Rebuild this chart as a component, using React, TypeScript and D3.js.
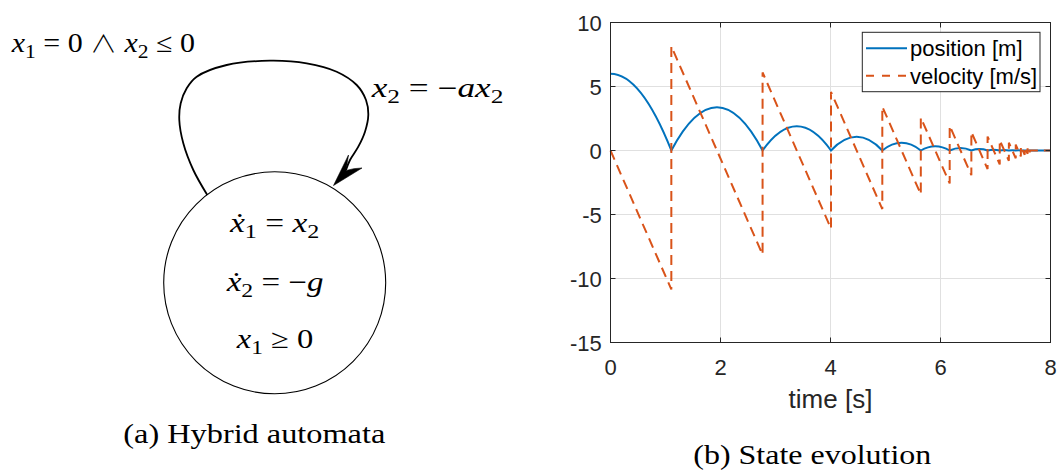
import React from "react";
import * as d3 from "d3";

// Bouncing ball: state evolution
const startHeight = 6;
const impactTimes = [1.106, 2.765, 4.009, 4.942, 5.642, 6.167, 6.561, 6.856, 7.077, 7.243, 7.368, 7.461, 7.531, 7.584, 7.623];
const impactSpeeds = [10.85, 8.14, 6.1, 4.58, 3.43, 2.57, 1.93, 1.45, 1.09, 0.81, 0.61, 0.46, 0.34, 0.26, 0.19];
const reboundSpeeds = [8.14, 6.1, 4.58, 3.43, 2.57, 1.93, 1.45, 1.09, 0.81, 0.61, 0.46, 0.34, 0.26, 0.19, 0];
const peakHeights = [3.38, 1.9, 1.07, 0.6, 0.34, 0.19, 0.11, 0.06, 0.034, 0.019, 0.011, 0.006, 0.003, 0.002];
const tEnd = 8;

const xTicks = [0, 2, 4, 6, 8];
const yTicks = [-15, -10, -5, 0, 5, 10];
const seriesNames = ["position [m]", "velocity [m/s]"];

// Automaton self-loop, drawn as a smooth curve through these points
const loopPoints: [number, number][] = [
  [207.3, 195], [193.3, 170], [183.3, 143.3], [179.3, 120], [180.7, 103.3],
  [186.7, 88.3], [196.7, 76.7], [226.7, 65], [270, 60.7], [306.7, 63.3],
  [336.7, 71.7], [356.7, 85], [366, 100], [368.3, 115], [365, 131.7],
  [358.3, 146.7], [350, 160], [346, 170],
];

const BLUE = "#0072BD";
const ORANGE = "#D95319";
const AX = "#262626";
const SANS = "'Liberation Sans', Arial, Helvetica, sans-serif";
const SERIF = "'Liberation Serif', 'Times New Roman', serif";

type Part = { t: string; i?: boolean; sub?: boolean; sym?: boolean };

function MathText({ x, y, parts, size, width }: { x: number; y: number; parts: Part[]; size: number; width: number }) {
  const nodes: React.ReactNode[] = [];
  let lowered = false;
  parts.forEach((p, k) => {
    let dy = 0;
    if (p.sub && !lowered) { dy = size * 0.22; lowered = true; }
    else if (!p.sub && lowered) { dy = -size * 0.22; lowered = false; }
    nodes.push(
      <tspan
        key={k}
        dy={dy || undefined}
        fontStyle={p.i ? "italic" : "normal"}
        fontFamily={p.sym ? "'Noto Sans CJK JP', 'DejaVu Sans', sans-serif" : undefined}
        fontWeight={p.sym ? 300 : undefined}
        fontSize={p.sub ? size * 0.72 : p.sym ? size * 0.9 : size}
      >
        {p.t}
      </tspan>
    );
  });
  return (
    <text x={x} y={y} fontFamily={SERIF} fontSize={size} fill="#000" style={{ whiteSpace: "pre" }}
      textLength={width} lengthAdjust="spacingAndGlyphs">
      {nodes}
    </text>
  );
}

export default function App() {
  const x = d3.scaleLinear().domain([0, 8]).range([610.5, 1050.5]);
  const y = d3.scaleLinear().domain([-15, 10]).range([342.5, 22.5]);

  // position: parabolic arcs between impacts (quadratic Béziers)
  const pos = d3.path();
  pos.moveTo(x(0), y(startHeight));
  pos.quadraticCurveTo(x(impactTimes[0] / 2), y(startHeight), x(impactTimes[0]), y(0));
  peakHeights.forEach((h, i) => {
    const a = impactTimes[i];
    const b = impactTimes[i + 1];
    pos.quadraticCurveTo(x((a + b) / 2), y(2 * h), x(b), y(0));
  });
  pos.lineTo(x(tEnd), y(0));

  // velocity: linear fall between impacts, jumps at each impact
  const velPts: [number, number][] = [[0, 0]];
  impactTimes.forEach((t, i) => {
    velPts.push([t, -impactSpeeds[i]]);
    velPts.push([t, reboundSpeeds[i]]);
  });
  velPts.push([tEnd, 0]);
  const velLine = d3.line<[number, number]>().x((d) => x(d[0])).y((d) => y(d[1]));

  const loop = d3.line().curve(d3.curveCatmullRom.alpha(0.5))(loopPoints) || "";

  const x0 = x(0), x1 = x(8), yt = y(10), yb = y(-15);
  const tick = 5;

  return (
    <svg width={1058} height={472} style={{ position: "absolute", left: 0, top: 0, background: "#fff" }}>
      {/* (a) hybrid automaton */}
      <circle cx={274.7} cy={282.8} r={111} fill="none" stroke="#000" strokeWidth={1.1} />
      <path d={loop} fill="none" stroke="#000" strokeWidth={1.8} />
      <path d="M333.5,185.5 L348.5,155 Q347,164 346,170.5 Q354,168 362,168 Z" fill="#000" stroke="#000" strokeWidth={0.6} strokeLinejoin="miter" />

      <MathText x={11.7} y={52} size={27} width={183.3} parts={[
        { t: "x", i: true }, { t: "1", sub: true }, { t: " = 0 " }, { t: "∧", sym: true }, { t: " " }, { t: "x", i: true }, { t: "2", sub: true }, { t: " ≤ 0" },
      ]} />
      <MathText x={371.7} y={97} size={27} width={131.7} parts={[
        { t: "x", i: true }, { t: "2", sub: true }, { t: " = −" }, { t: "ax", i: true }, { t: "2", sub: true },
      ]} />
      <MathText x={230} y={232} size={27} width={89.3} parts={[
        { t: "x\u0307", i: true }, { t: "1", sub: true }, { t: " = " }, { t: "x", i: true }, { t: "2", sub: true },
      ]} />
      <MathText x={226.7} y={291} size={27} width={96.7} parts={[
        { t: "x\u0307", i: true }, { t: "2", sub: true }, { t: " = −" }, { t: "g", i: true },
      ]} />
      <MathText x={236.7} y={348.3} size={27} width={76.7} parts={[
        { t: "x", i: true }, { t: "1", sub: true }, { t: " ≥ 0" },
      ]} />
      <text x={123.3} y={443.3} fontFamily={SERIF} fontSize={28} fill="#000" textLength={262} lengthAdjust="spacingAndGlyphs">(a) Hybrid automata</text>

      {/* (b) state evolution */}
      <g>
        {xTicks.map((t) => (
          <line key={"gx" + t} x1={x(t)} x2={x(t)} y1={yt} y2={yb} stroke="#e0e0e0" strokeWidth={1} />
        ))}
        {yTicks.map((t) => (
          <line key={"gy" + t} x1={x0} x2={x1} y1={y(t)} y2={y(t)} stroke="#e0e0e0" strokeWidth={1} />
        ))}
        <path d={pos.toString()} fill="none" stroke={BLUE} strokeWidth={2} />
        <path d={velLine(velPts) || ""} fill="none" stroke={ORANGE} strokeWidth={2} strokeDasharray="10,6" />
        <rect x={x0} y={yt} width={x1 - x0} height={yb - yt} fill="none" stroke={AX} strokeWidth={1} />
        {xTicks.map((t) => (
          <g key={"tx" + t}>
            <line x1={x(t)} x2={x(t)} y1={yb} y2={yb - tick} stroke={AX} />
            <line x1={x(t)} x2={x(t)} y1={yt} y2={yt + tick} stroke={AX} />
            <text x={x(t)} y={375} textAnchor="middle" fontFamily={SANS} fontSize={22} fill={AX}>{t}</text>
          </g>
        ))}
        {yTicks.map((t) => (
          <g key={"ty" + t}>
            <line x1={x0} x2={x0 + tick} y1={y(t)} y2={y(t)} stroke={AX} />
            <line x1={x1} x2={x1 - tick} y1={y(t)} y2={y(t)} stroke={AX} />
            <text x={601.7} y={y(t) + 8} textAnchor="end" fontFamily={SANS} fontSize={22} fill={AX}>{t}</text>
          </g>
        ))}
        <text x={(x0 + x1) / 2} y={408} textAnchor="middle" fontFamily={SANS} fontSize={26} fill={AX}>time [s]</text>

        <rect x={862.3} y={32.3} width={177.7} height={59.4} fill="#fff" stroke={AX} strokeWidth={1} />
        <line x1={866} x2={907} y1={48.3} y2={48.3} stroke={BLUE} strokeWidth={2} />
        <line x1={866} x2={907} y1={75.7} y2={75.7} stroke={ORANGE} strokeWidth={2} strokeDasharray="8,8" />
        <text x={910} y={56.3} fontFamily={SANS} fontSize={22} fill="#000">{seriesNames[0]}</text>
        <text x={910} y={83.7} fontFamily={SANS} fontSize={22} fill="#000">{seriesNames[1]}</text>
      </g>
      <text x={693.3} y={464} fontFamily={SERIF} fontSize={28} fill="#000" textLength={238} lengthAdjust="spacingAndGlyphs">(b) State evolution</text>
    </svg>
  );
}
